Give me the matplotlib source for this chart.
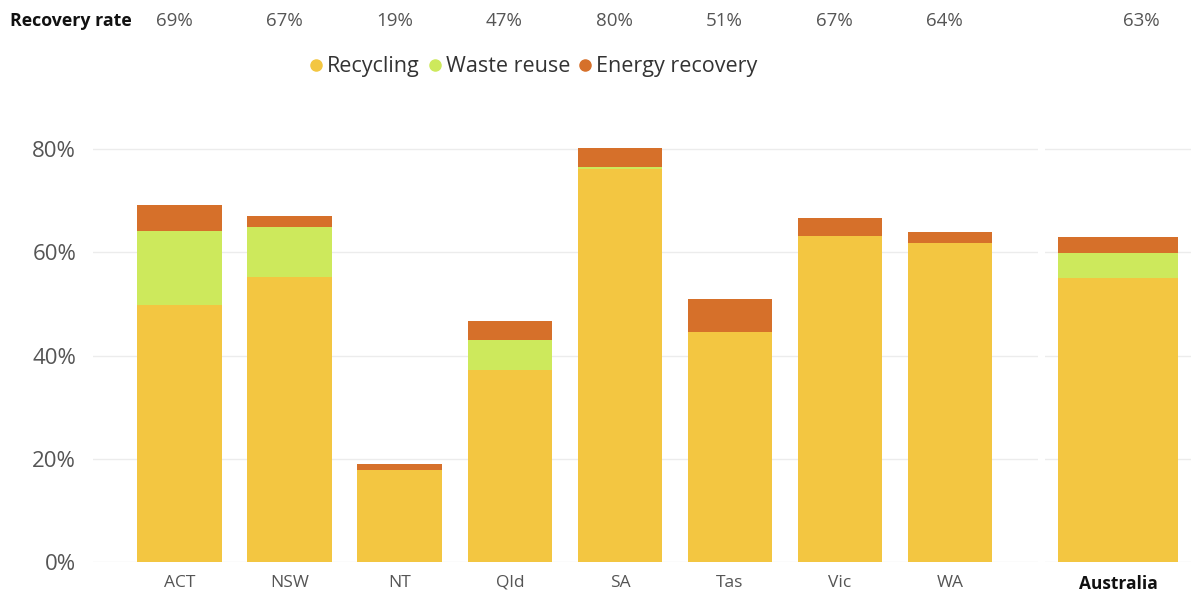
import matplotlib
matplotlib.use("Agg")
import matplotlib.pyplot as plt
import matplotlib.transforms as mtransforms
from matplotlib.lines import Line2D
import numpy as np

plt.rcParams['font.family'] = ['Open Sans', 'DejaVu Sans']

# data (% of waste generated)
states = ['ACT', 'NSW', 'NT', 'Qld', 'SA', 'Tas', 'Vic', 'WA']
recycling = [49.8, 55.3, 17.8, 37.2, 76.2, 44.6, 63.2, 61.7]
waste_reuse = [14.3, 9.5, 0.0, 5.8, 0.4, 0.0, 0.0, 0.0]
energy_recovery = [5.1, 2.3, 1.1, 3.7, 3.5, 6.3, 3.4, 2.3]
recovery_rate = ['69%', '67%', '19%', '47%', '80%', '51%', '67%', '64%']

national = 'Australia'
national_recycling = 55.0
national_reuse = 4.8
national_energy = 3.1
national_rate = '63%'

yticks = [0, 20, 40, 60, 80]

c_rec = '#F3C641'
c_reuse = '#CDE95C'
c_energy = '#D6702A'
grid_c = '#ECECEC'
label_c = '#555555'

fig = plt.figure(figsize=(11.91, 5.91), dpi=100)
ax = fig.add_axes([0.078, 0.049, 0.7935, 0.7033])
ax2 = fig.add_axes([0.8774, 0.049, 0.1226, 0.7033])

x = np.arange(len(states))
rec = np.array(recycling)
reuse = np.array(waste_reuse)
energy = np.array(energy_recovery)
w = 0.77
ax.bar(x, rec, w, color=c_rec, zorder=2)
ax.bar(x, reuse, w, bottom=rec, color=c_reuse, zorder=2)
ax.bar(x, energy, w, bottom=rec + reuse, color=c_energy, zorder=2)
ax.set_xlim(-0.79, 7.8)

ax2.bar([0], [national_recycling], 0.82, color=c_rec, zorder=2)
ax2.bar([0], [national_reuse], 0.82, bottom=[national_recycling], color=c_reuse, zorder=2)
ax2.bar([0], [national_energy], 0.82, bottom=[national_recycling + national_reuse],
        color=c_energy, zorder=2)
ax2.set_xlim(-0.5, 0.5)

for a in (ax, ax2):
    a.set_ylim(0, 80.5)
    a.set_yticks(yticks)
    for s in a.spines.values():
        s.set_visible(False)
    a.grid(axis='y', color=grid_c, linewidth=1, zorder=0)
    a.tick_params(length=0)

ax.set_yticklabels([f'{v}%' for v in yticks], fontsize=16, color=label_c)
ax.tick_params(axis='y', pad=12)
ax.set_xticks(x)
ax.set_xticklabels(states, fontsize=12.5, color=label_c)
ax.tick_params(axis='x', pad=9)

ax2.set_yticklabels([])
ax2.set_xticks([0])
ax2.set_xticklabels([national], fontsize=12.5, fontweight='bold', color='#111111')
ax2.tick_params(axis='x', pad=9)

# recovery rate row along the top
fig.text(0.008, 0.965, 'Recovery rate', fontsize=12.8, fontweight='bold',
         color='#111111', ha='left', va='center')
tr = mtransforms.blended_transform_factory(ax.transData, fig.transFigure)
for xi, r in zip(x, recovery_rate):
    ax.text(xi - 0.05, 0.965, r, transform=tr, fontsize=13.5, color=label_c,
            ha='center', va='center')
tr2 = mtransforms.blended_transform_factory(ax2.transData, fig.transFigure)
ax2.text(0.16, 0.965, national_rate, transform=tr2, fontsize=13.5, color=label_c,
         ha='center', va='center')

handles = [Line2D([], [], marker='o', linestyle='', markersize=8, color=c)
           for c in (c_rec, c_reuse, c_energy)]
fig.legend(handles, ['Recycling', 'Waste reuse', 'Energy recovery'],
           loc='center', bbox_to_anchor=(0.447, 0.887), ncol=3, frameon=False,
           fontsize=15.5, handlelength=0.8, handletextpad=0.1, columnspacing=0.3,
           labelcolor='#333333')

fig.savefig('out.png', dpi=100)
